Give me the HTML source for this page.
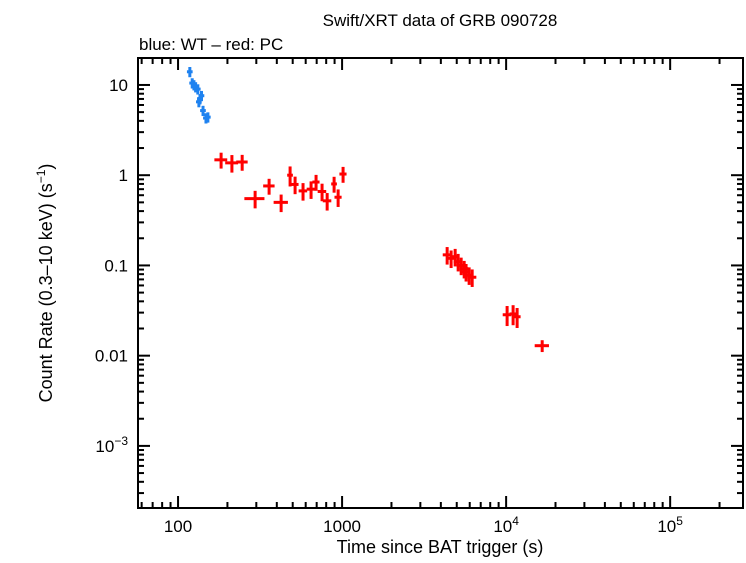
<!DOCTYPE html>
<html><head><meta charset="utf-8"><style>
body{margin:0;background:#fff;width:746px;height:558px;overflow:hidden}
svg text{font-family:"Liberation Sans",sans-serif;fill:#000}
</style></head><body>
<svg id="chart" width="746" height="558" xmlns="http://www.w3.org/2000/svg">
<text x="440" y="26" font-size="17" text-anchor="middle">Swift/XRT data of GRB 090728</text>
<text x="139" y="50" font-size="17">blue: WT – red: PC</text>
<text x="440" y="553" font-size="18" text-anchor="middle">Time since BAT trigger (s)</text>
<text transform="translate(52,283) rotate(-90)" font-size="18" text-anchor="middle">Count Rate (0.3–10 keV) (s<tspan font-size="12" dy="-7">−1</tspan><tspan dy="7">)</tspan></text>
<g id="ticks"></g><g id="marks"></g>
<rect x="138" y="58" width="605" height="450" fill="none" stroke="#000" stroke-width="2"/>
</svg>
<script>
const wtTime=[118,122,125,128,132,136,134,139,142,148,152];
const wtRate=[14,10.5,10,9.5,9,7,6.5,7.6,5.2,4.3,4.4];
const pcTime=[183,213,246,295,359,425,482,517,578,647,694,755,811,894,946,1014,4370,4620,4890,5100,5320,5550,5700,5950,6210,10140,11030,11670,16590];
const pcRate=[1.48,1.37,1.40,0.55,0.76,0.50,1.0,0.79,0.67,0.70,0.84,0.66,0.52,0.80,0.57,1.03,0.131,0.12,0.125,0.11,0.10,0.092,0.085,0.078,0.074,0.0284,0.029,0.027,0.0129];
const pcXerr=[0.09,0.09,0.08,0.14,0.08,0.1,0.04,0.05,0.06,0.06,0.05,0.06,0.06,0.04,0.05,0.05,0.06,0.06,0.06,0.06,0.06,0.06,0.06,0.06,0.06,0.06,0.05,0.05,0.1];
const pcYerr=[0.2,0.22,0.2,0.22,0.2,0.22,0.25,0.22,0.22,0.22,0.2,0.22,0.22,0.2,0.22,0.2,0.22,0.22,0.22,0.22,0.22,0.22,0.22,0.22,0.22,0.25,0.25,0.25,0.15];
const xTickVals=[100,1000,10000,100000];
const xTickLabels=["100","1000","10^4","10^5"];
const yTickVals=[10,1,0.1,0.01,0.001];
const yTickLabels=["10","1","0.1","0.01","10^−3"];
const L=138,R=743,T=58,B=508;
const xlo=Math.log10(57.0),xhi=Math.log10(278000),ylo=Math.log10(2.05e-4),yhi=Math.log10(19.9);
const X=v=>L+(Math.log10(v)-xlo)/(xhi-xlo)*(R-L);
const Y=v=>B-(Math.log10(v)-ylo)/(yhi-ylo)*(B-T);
const NS="http://www.w3.org/2000/svg";
function mk(tag,attrs,parent){const e=document.createElementNS(NS,tag);for(const k in attrs)e.setAttribute(k,attrs[k]);parent.appendChild(e);return e;}
const tg=document.getElementById('ticks'),mg=document.getElementById('marks');
function lab(parent,x,y,s,anchor){const t=mk('text',{x:x,y:y,'font-size':17,'text-anchor':anchor},parent);
 if(s.includes('^')){const [b,e]=s.split('^');t.textContent=b;const sp=mk('tspan',{'font-size':12,dy:-7},t);sp.textContent=e;}else t.textContent=s;return t;}
for(let d=1;d<=5;d++)for(let m=1;m<10;m++){const v=m*Math.pow(10,d);if(v<57||v>278000)continue;const x=X(v);const len=m===1?12:6;
 const a=mk('line',{x1:x,x2:x,y1:B,y2:B-len,stroke:'#000','stroke-width':2},tg);
 
 const b=mk('line',{x1:x,x2:x,y1:T,y2:T+len,stroke:'#000','stroke-width':2},tg);
 }
xTickVals.forEach((v,i)=>{const t=lab(tg,X(v),532,xTickLabels[i],'middle');
 });
for(let d=-4;d<=1;d++)for(let m=1;m<10;m++){const v=m*Math.pow(10,d);if(v<2.05e-4||v>19.9)continue;const y=Y(v);const len=m===1?12:6;
 const a=mk('line',{x1:L,x2:L+len,y1:y,y2:y,stroke:'#000','stroke-width':2},tg);
 
 const b=mk('line',{x1:R,x2:R-len,y1:y,y2:y,stroke:'#000','stroke-width':2},tg);
 }
yTickVals.forEach((v,i)=>{const t=lab(tg,128,Y(v)+6,yTickLabels[i],'end');
 });
function cross(x,y,xe,ye,col,name){const g=mk('g',{stroke:col,'stroke-width':3},mg);
 
 mk('line',{x1:X(x*(1-xe)),x2:X(x*(1+xe)),y1:Y(y),y2:Y(y)},g);
 mk('line',{x1:X(x),x2:X(x),y1:Y(y*(1-ye)),y2:Y(y*(1+ye))},g);}
wtTime.forEach((t,i)=>cross(t,wtRate[i],0.04,0.13,'#1e82f0','wt-point'));
pcTime.forEach((t,i)=>cross(t,pcRate[i],pcXerr[i],pcYerr[i],'#ff0000','pc-point'));
</script>
</body></html>
